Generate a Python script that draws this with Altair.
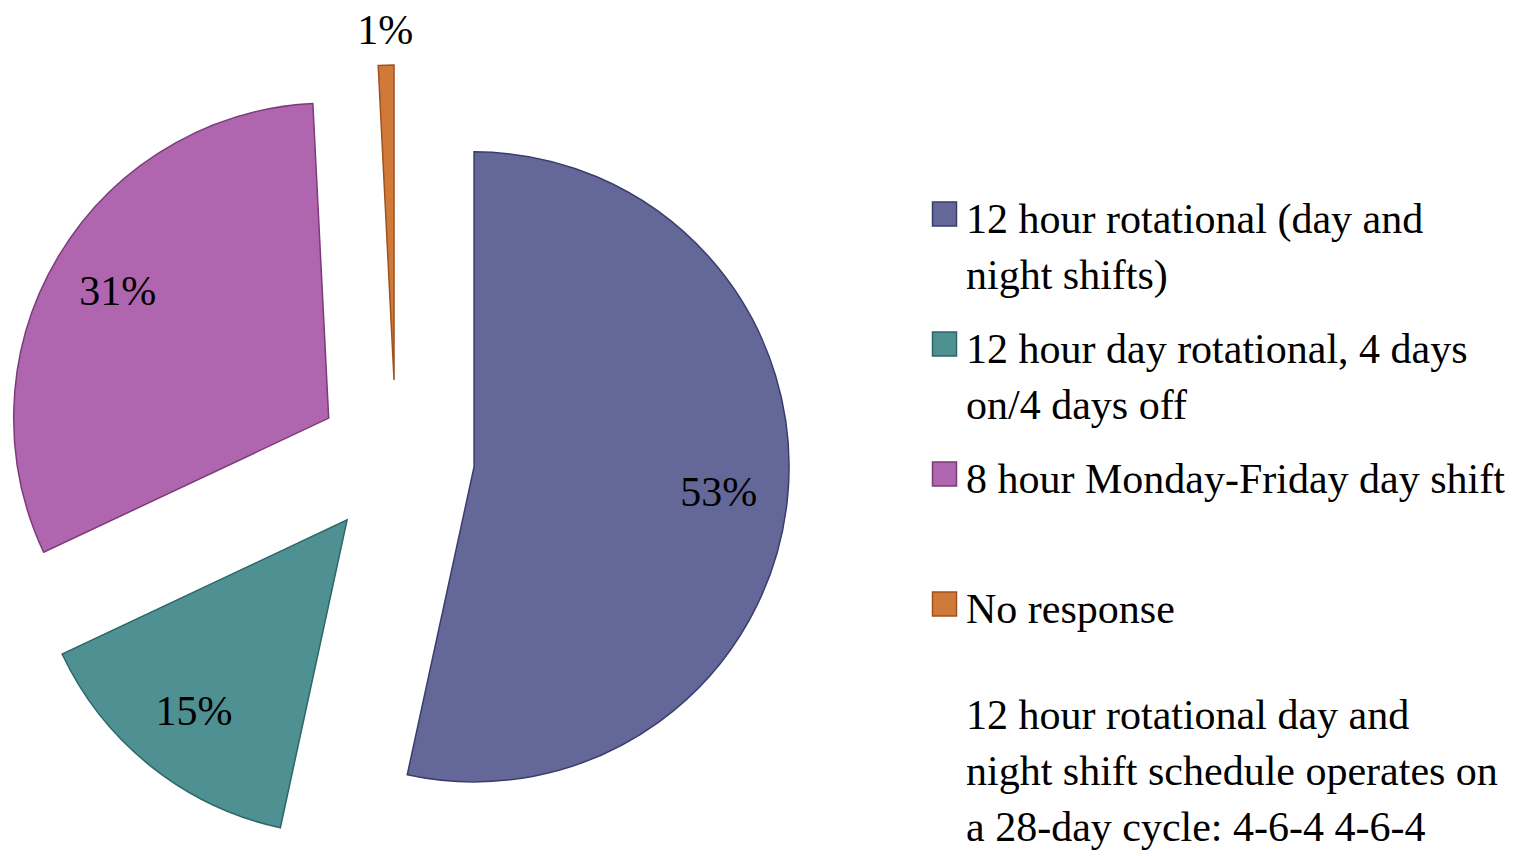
import altair as alt
import pandas as pd

# ---- data ----
categories = [
    "12 hour rotational (day and|night shifts)",
    "12 hour day rotational, 4 days|on/4 days off",
    "8 hour Monday-Friday day shift",
    "No response",
]
shares = [53.4, 14.6, 31.2, 0.8]
fill_colors = ["#646899", "#4f9193", "#b066ae", "#d07a3a"]
edge_colors = ["#3a3c6c", "#2b6668", "#7b3b79", "#9e521f"]
note_lines = [
    "12 hour rotational day and",
    "night shift schedule operates on",
    "a 28-day cycle: 4-6-4 4-6-4",
]

df = pd.DataFrame({"category": categories, "share": shares,
                   "order": list(range(len(categories)))})
note_df = pd.DataFrame({"note": ["|".join(note_lines)]})

FONT = "Liberation Serif"
CX, CY, R, EXPLODE = 388, 450.5, 315, 78.5
LABEL_R, OUTER_LABEL_R = 246, 349
LEG_X_SYMBOL, LEG_X_TEXT, LEG_Y0, LEG_STEP = 936.5, 958, 225, 130

fill_scale = alt.Scale(domain=categories, range=fill_colors)
stroke_scale = alt.Scale(domain=categories, range=edge_colors)

pie = (
    alt.Chart(df)
    .transform_joinaggregate(total="sum(share)")
    .transform_window(cum="sum(share)", sort=[alt.SortField("order")], frame=[None, 0])
    .transform_calculate(
        t0="2*PI*(datum.cum - datum.share)/datum.total",
        t1="2*PI*datum.cum/datum.total",
    )
    .transform_calculate(tm="(datum.t0 + datum.t1)/2")
    .transform_calculate(
        cx=f"{CX} + {EXPLODE}*sin(datum.tm)",
        cy=f"{CY} - {EXPLODE}*cos(datum.tm)",
        lr=f"datum.share/datum.total < 0.05 ? {OUTER_LABEL_R} : {LABEL_R}",
        pct="format(datum.share/datum.total*100, '.0f') + '%'",
    )
    .transform_calculate(
        lx="datum.cx + datum.lr*sin(datum.tm)",
        ly="datum.cy - datum.lr*cos(datum.tm)",
    )
)

arcs = pie.mark_arc(outerRadius=R, strokeWidth=1.5).encode(
    x=alt.X("cx:Q", scale=None, axis=None),
    y=alt.Y("cy:Q", scale=None, axis=None),
    theta=alt.Theta("t0:Q", scale=None),
    theta2=alt.Theta2("t1:Q"),
    fill=alt.Fill("category:N", scale=fill_scale, legend=None),
    stroke=alt.Stroke("category:N", scale=stroke_scale, legend=None),
)

labels = pie.mark_text(font=FONT, fontSize=42, color="black",
                       align="center", baseline="middle").encode(
    x=alt.X("lx:Q", scale=None, axis=None),
    y=alt.Y("ly:Q", scale=None, axis=None),
    text="pct:N",
)

legend_base = alt.Chart(df).transform_calculate(
    gy=f"{LEG_Y0} + datum.order*{LEG_STEP}"
)
leg_sym = legend_base.mark_square(size=576, strokeWidth=1.5, opacity=1, yOffset=-19).encode(
    x=alt.value(LEG_X_SYMBOL),
    y=alt.Y("gy:Q", scale=None, axis=None),
    fill=alt.Fill("category:N", scale=fill_scale, legend=None),
    stroke=alt.Stroke("category:N", scale=stroke_scale, legend=None),
)
leg_txt = legend_base.mark_text(font=FONT, fontSize=42, color="black", align="left",
                                baseline="alphabetic", lineBreak="|", lineHeight=56).encode(
    x=alt.value(LEG_X_TEXT),
    y=alt.Y("gy:Q", scale=None, axis=None),
    text="category:N",
)

note = alt.Chart(note_df).mark_text(font=FONT, fontSize=42, color="black", align="left",
                                    baseline="alphabetic", lineBreak="|", lineHeight=56).encode(
    x=alt.value(LEG_X_TEXT),
    y=alt.value(721),
    text="note:N",
)

chart = (
    alt.layer(arcs, labels, leg_sym, leg_txt, note)
    .properties(width=1511, height=848, autosize=alt.AutoSizeParams(type="none"), padding=0)
    .configure_view(stroke=None)
)

chart.save("out.html", embed_options={"renderer": "svg", "actions": False})
